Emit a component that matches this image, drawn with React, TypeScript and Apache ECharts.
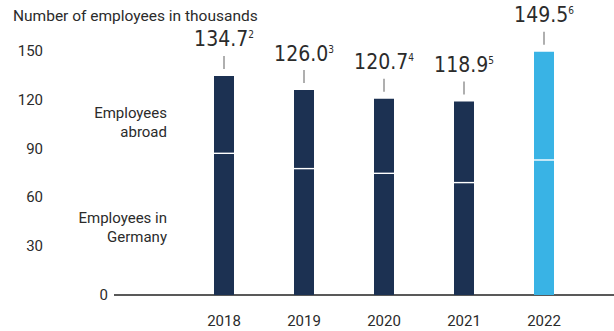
import React, { useEffect, useRef } from "react";
import * as echarts from "echarts";

const categories = ["2018", "2019", "2020", "2021", "2022"];
const totals = [134.7, 126.0, 120.7, 118.9, 149.5];
const germany = [87.1, 77.7, 74.8, 69.1, 83.0];
const footnotes = ["2", "3", "4", "5", "6"];
const yTicks = [0, 30, 60, 90, 120, 150];
const titleText = "Number of employees in thousands";
const abroadLabel = "Employees\nabroad";
const germanyLabel = "Employees in\nGermany";

const NAVY = "#1c3152";
const BLUE = "#39b3e5";
const TEXT = "#2b2b2b";
const FONT = "Roboto, 'Noto Sans', sans-serif";
const NUMFONT = "'Liberation Sans Narrow', 'DejaVu Sans Condensed', Roboto, sans-serif";

export default function App() {
  const ref = useRef<HTMLDivElement>(null);
  useEffect(() => {
    if (!ref.current) return;
    const chart = echarts.init(ref.current, undefined, { renderer: "svg" });
    const colorFor = (i: number) => (i === categories.length - 1 ? BLUE : NAVY);
    const abroad = totals.map((t, i) => Math.round((t - germany[i]) * 10) / 10);
    const yMin = yTicks[0];
    const yMax = yTicks[yTicks.length - 1];
    const step = yTicks[1] - yTicks[0];

    chart.setOption({
      animation: false,
      backgroundColor: "#ffffff",
      textStyle: { fontFamily: FONT },
      grid: { left: 184, right: 30, top: 51, bottom: 36, containLabel: false },
      xAxis: {
        type: "category",
        data: categories,
        axisLine: { show: false },
        axisTick: { show: false },
        axisLabel: { margin: 18, fontSize: 15, color: TEXT, fontFamily: FONT },
      },
      yAxis: [
        {
          type: "value",
          min: yMin,
          max: yMax,
          interval: step,
          splitLine: { show: false },
          axisLine: { show: false },
          axisTick: { show: false },
          axisLabel: {
            margin: 141,
            align: "right",
            fontSize: 15,
            color: TEXT,
            fontFamily: FONT,
            padding: [6, 0, 0, 0],
            formatter: (v: number) => (v === yMin ? "" : String(v)),
          },
        },
        {
          type: "value",
          position: "left",
          min: yMin,
          max: yMax,
          interval: yMax - yMin,
          splitLine: { show: false },
          axisLine: { show: false },
          axisTick: { show: false },
          axisLabel: {
            margin: 76,
            align: "right",
            fontSize: 15,
            color: TEXT,
            fontFamily: FONT,
            formatter: (v: number) => (v === yMin ? String(v) : ""),
          },
        },
      ],
      graphic: [
        {
          type: "text",
          left: 13,
          top: 8,
          style: { text: titleText, fontSize: 15.5, fill: TEXT, fontFamily: FONT },
        },
        {
          type: "text",
          x: 167,
          y: 122,
          style: {
            text: abroadLabel,
            fontSize: 15,
            lineHeight: 19,
            fill: TEXT,
            fontFamily: FONT,
            align: "right",
            verticalAlign: "middle",
          },
        },
        {
          type: "text",
          x: 167,
          y: 227,
          style: {
            text: germanyLabel,
            fontSize: 15,
            lineHeight: 19,
            fill: TEXT,
            fontFamily: FONT,
            align: "right",
            verticalAlign: "middle",
          },
        },
        {
          type: "line",
          shape: { x1: 114, y1: 295, x2: 614, y2: 295 },
          style: { stroke: "#222222", lineWidth: 1.5 },
        },
      ],
      series: [
        {
          name: "Employees in Germany",
          type: "bar",
          stack: "total",
          barWidth: 20,
          data: germany.map((v, i) => ({ value: v, itemStyle: { color: colorFor(i) } })),
        },
        {
          name: "Employees abroad",
          type: "bar",
          stack: "total",
          barWidth: 20,
          data: abroad.map((v, i) => ({ value: v, itemStyle: { color: colorFor(i) } })),
        },
        {
          type: "custom",
          z: 10,
          data: categories.map((c, i) => [i, totals[i], germany[i]]),
          renderItem: (params: any, api: any) => {
            const i = api.value(0);
            const total = api.value(1);
            const g = api.value(2);
            const top = api.coord([i, total]);
            const gp = api.coord([i, g]);
            const x = top[0];
            return {
              type: "group",
              children: [
                {
                  type: "line",
                  shape: { x1: x - 10, y1: gp[1], x2: x + 10, y2: gp[1] },
                  style: { stroke: "#ffffff", lineWidth: 1.4 },
                },
                {
                  type: "line",
                  shape: { x1: x, y1: top[1] - 20, x2: x, y2: top[1] - 7 },
                  style: { stroke: "#7a7a7a", lineWidth: 1.2 },
                },
                {
                  type: "text",
                  x: x,
                  y: top[1] - 26,
                  style: {
                    text: `{v|${total.toFixed(1)}}{s|${footnotes[params.dataIndex]}}`,
                    align: "center",
                    verticalAlign: "bottom",
                    rich: {
                      v: { fontSize: 21, lineHeight: 21, fill: TEXT, fontFamily: NUMFONT },
                      s: {
                        fontSize: 10,
                        lineHeight: 10,
                        fill: TEXT,
                        fontFamily: NUMFONT,
                        verticalAlign: "top",
                        padding: [1, 0, 0, 0],
                      },
                    },
                  },
                },
              ],
            };
          },
        },
      ],
    });
    return () => chart.dispose();
  }, []);
  return <div ref={ref} style={{ width: 614, height: 331, position: "absolute", left: 0, top: 0 }} />;
}
